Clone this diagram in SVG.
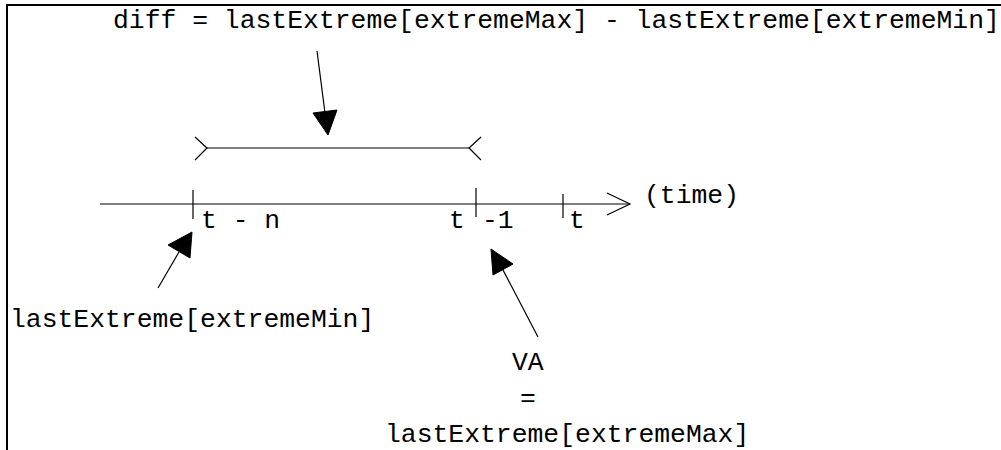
<svg xmlns="http://www.w3.org/2000/svg" width="1001" height="450" viewBox="0 0 1001 450">
  <style>
    .lbl { font-family: "Liberation Mono", "DejaVu Sans Mono", monospace; font-size: 26.4px; fill: #000; }
    .ln { stroke: #000; stroke-width: 1.2; fill: none; }
    .head { fill: #000; stroke: #000; stroke-width: 1; }
    .frame { stroke: #000; stroke-width: 2; fill: none; }
  </style>
  <rect width="1001" height="450" fill="#fff"/>

  <!-- frame: top and left edges -->
  <g id="frame">
    <path class="frame" d="M7,450 V5 H1001"/>
  </g>

  <!-- time axis with ticks -->
  <g id="axis">
    <line class="ln" x1="100" y1="204" x2="630" y2="204"/>
    <polyline class="ln" points="607,193 630,204 607,215"/>
    <line class="ln" x1="193" y1="190" x2="193" y2="219"/>
    <line class="ln" x1="476" y1="188" x2="476" y2="217"/>
    <line class="ln" x1="563" y1="194" x2="563" y2="218"/>
  </g>

  <!-- interval bracket -->
  <g id="interval">
    <line class="ln" x1="207" y1="148" x2="469" y2="148"/>
    <polyline class="ln" points="195,137 207,148 195,160"/>
    <polyline class="ln" points="481,137 469,148 481,160"/>
  </g>

  <g id="diff-label">
    <text class="lbl" x="113" y="28">diff = lastExtreme[extremeMax] - lastExtreme[extremeMin]</text>
  </g>
  <g id="time-label">
    <text class="lbl" x="644" y="203">(time)</text>
  </g>
  <g id="tick-labels">
    <text class="lbl" x="201" y="228">t - n</text>
    <text class="lbl" x="449" y="228">t</text>
    <text class="lbl" x="482" y="228">-1</text>
    <text class="lbl" x="569" y="228">t</text>
  </g>
  <g id="min-label">
    <text class="lbl" x="10" y="327">lastExtreme[extremeMin]</text>
  </g>
  <g id="max-label">
    <text class="lbl" x="512" y="370">VA</text>
    <text class="lbl" x="520" y="406">=</text>
    <text class="lbl" x="385" y="442">lastExtreme[extremeMax]</text>
  </g>

  <!-- pointer arrows -->
  <g id="connectors">
    <line class="ln" x1="317" y1="51" x2="325" y2="113"/>
    <polygon class="head" points="313,113 337,110 328,135"/>
    <line class="ln" x1="158" y1="288" x2="179" y2="252"/>
    <polygon class="head" points="192,232 190,258 168,245"/>
    <line class="ln" x1="538" y1="337" x2="502" y2="268"/>
    <polygon class="head" points="491,249 513,264 493,275"/>
  </g>
</svg>
